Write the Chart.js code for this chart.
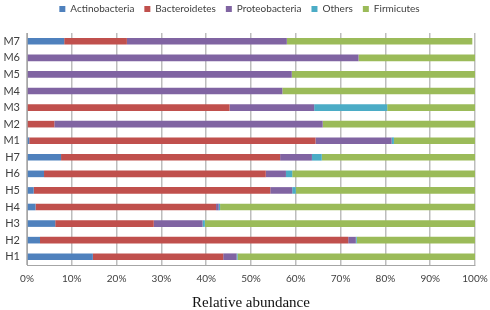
<!DOCTYPE html>
<html>
<head>
<meta charset="utf-8">
<script src="https://cdn.jsdelivr.net/npm/chart.js@4/dist/chart.umd.min.js"></script>
<style>
  body { margin: 0; background: #fff; }
  #wrap { width: 490px; height: 310px; }
</style>
</head>
<body>
<div id="wrap"><canvas id="abundance" width="490" height="310"></canvas></div>
<script>
// samples, top to bottom
const samples = ['M7', 'M6', 'M5', 'M4', 'M3', 'M2', 'M1', 'H7', 'H6', 'H5', 'H4', 'H3', 'H2', 'H1'];

// relative abundance (%) per phylum
const actinobacteria = [8.3, 0, 0, 0, 0, 0, 0.5, 7.6, 3.8, 1.5, 1.9, 6.3, 2.9, 14.7];
const bacteroidetes = [14.0, 0, 0, 0, 45.2, 6.1, 63.9, 48.9, 49.5, 52.8, 40.3, 22.0, 68.8, 29.1];
const proteobacteria = [35.7, 74.0, 59.1, 57.0, 18.9, 59.9, 17.0, 7.1, 4.5, 4.9, 0.6, 10.9, 1.7, 3.0];
const others = [0, 0, 0, 0, 16.3, 0, 0.5, 2.2, 1.4, 0.8, 0.3, 0.5, 0.2, 0.2];
const firmicutes = [41.4, 26.0, 40.9, 43.0, 19.6, 34.0, 18.1, 34.2, 40.8, 40.0, 56.9, 60.3, 26.4, 53.0];

const xTicks = [0, 10, 20, 30, 40, 50, 60, 70, 80, 90, 100];

const mkSet = (label, data, color) => ({
    label: label,
    data: data,
    backgroundColor: color,
    borderWidth: 0,
    barPercentage: 0.8,
    categoryPercentage: 0.5,
});

// legend sits high, with a gap before the plot
const legendGap = {
    id: 'legendGap',
    beforeInit(chart) {
        const fit = chart.legend.fit;
        chart.legend.fit = function () {
            fit.bind(chart.legend)();
            this.height += 9;
        };
    },
};

const ctx = document.getElementById('abundance').getContext('2d');
new Chart(ctx, {
    type: 'bar',
    data: {
        labels: samples,
        datasets: [
            mkSet('Actinobacteria', actinobacteria, '#4F81BD'),
            mkSet('Bacteroidetes', bacteroidetes, '#C0504D'),
            mkSet('Proteobacteria', proteobacteria, '#8064A2'),
            mkSet('Others', others, '#4BACC6'),
            mkSet('Firmicutes', firmicutes, '#9BBB59'),
        ],
    },
    plugins: [legendGap],
    options: {
        responsive: false,
        animation: false,
        indexAxis: 'y',
        layout: {padding: {left: 4, right: 15, top: -6, bottom: -2}},
        plugins: {
            tooltip: {enabled: false},
            legend: {
                position: 'top',
                labels: {
                    boxWidth: 6,
                    boxHeight: 6,
                    padding: 10,
                    color: '#404040',
                    font: {family: 'Lato', size: 10},
                },
            },
        },
        scales: {
            x: {
                stacked: true,
                min: 0,
                max: 100,
                afterBuildTicks: (axis) => {
                    axis.ticks = xTicks.map(v => ({value: v}));
                },
                afterFit: (scale) => {
                    scale.height = 47;
                    scale.paddingLeft = 0;
                    scale.paddingRight = 0;
                },
                grid: {color: '#bdbdbd', lineWidth: 1.5, drawTicks: false},
                border: {color: '#a6a6a6', width: 1},
                ticks: {
                    padding: 8,
                    color: '#404040',
                    font: {family: 'Lato', size: 10},
                    callback: (v) => v + '%',
                },
                title: {
                    display: true,
                    text: 'Relative abundance',
                    color: '#111',
                    font: {family: 'Liberation Serif', size: 15},
                    padding: {top: 9, bottom: 0},
                },
            },
            y: {
                stacked: true,
                afterFit: (scale) => {
                    scale.width = 23;
                    scale.paddingTop = 0;
                    scale.paddingBottom = 0;
                },
                grid: {display: false, drawTicks: false},
                border: {color: '#a6a6a6', width: 1},
                ticks: {
                    autoSkip: false,
                    padding: 7,
                    color: '#404040',
                    font: {family: 'Lato', size: 11},
                },
            },
        },
    },
});
</script>
</body>
</html>
